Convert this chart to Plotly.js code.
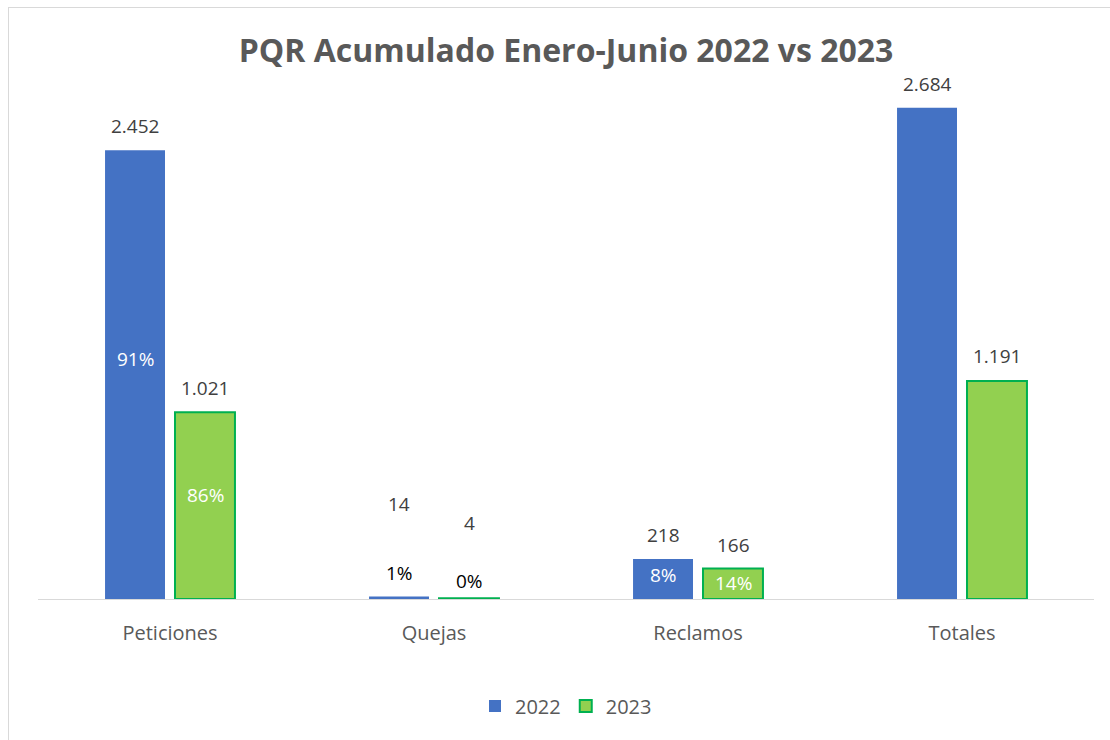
<!DOCTYPE html>
<html><head><meta charset="utf-8">
<script src="https://cdn.plot.ly/plotly-3.0.1.min.js"></script>
<style>
body{margin:0;background:#fff;}
#chart{width:1110px;height:740px;}
#frame{position:absolute;left:8px;top:7px;width:1200px;height:800px;border-left:1px solid #d9d9d9;border-top:1px solid #d9d9d9;pointer-events:none;}
</style></head>
<body>
<div id="chart"></div>
<div id="frame"></div>
<script>
const categories = ["Peticiones", "Quejas", "Reclamos", "Totales"];
const values2022 = [2452, 14, 218, 2684];
const values2023 = [1021, 4, 166, 1191];
const pct2022 = ["91%", "1%", "8%", ""];
const pct2023 = ["86%", "0%", "14%", ""];
const seriesNames = ["2022", "2023"];

function fmt(v){ return String(v).replace(/\B(?=(\d{3})+(?!\d))/g, "."); }

const FONT = "Open Sans, Liberation Sans, sans-serif";
const traces = [
  {type:"bar", name:seriesNames[0], x:categories, y:values2022,
   marker:{color:"#4472C4", line:{color:"#4472C4", width:0}}, hoverinfo:"none"},
  {type:"bar", name:seriesNames[1], x:categories, y:values2023,
   marker:{color:"#92D050", line:{color:"#00B050", width:2}}, hoverinfo:"none"}
];

const valShift = [[24, 92, 24, 24],[24, 75, 24, 25]];
const pctShift = [[16, 25, 4, 0],[11, 18, 1, 0]];
const pctColor = [["#ffffff","#000000","#ffffff","#ffffff"],["#ffffff","#000000","#ffffff","#ffffff"]];
const annotations = [];
[values2022, values2023].forEach((vals, s) => {
  const pcts = s === 0 ? pct2022 : pct2023;
  const xs = s === 0 ? -35 : 35;
  vals.forEach((v, i) => {
    annotations.push({x:categories[i], y:v, xref:"x", yref:"y", text:fmt(v), showarrow:false,
      xshift:xs, yshift:valShift[s][i], font:{family:FONT, size:19, color:"#404040"}});
    if (pcts[i]) {
      annotations.push({x:categories[i], y:v/2, xref:"x", yref:"y", text:pcts[i], showarrow:false,
        xshift:xs, yshift:pctShift[s][i], font:{family:FONT, size:19, color:pctColor[s][i]}});
    }
  });
});

const layout = {
  width:1110, height:740,
  margin:{l:38, r:16, t:90, b:141},
  paper_bgcolor:"#ffffff", plot_bgcolor:"#ffffff",
  title:{text:"<b>PQR Acumulado Enero-Junio 2022 vs 2023</b>", x:0.51, xanchor:"center", y:0.932, yanchor:"middle",
    font:{family:FONT, size:32, color:"#595959"}},
  barmode:"group", bargap:0.47, bargroupgap:0.143,
  xaxis:{type:"category", showline:true, linecolor:"#d9d9d9", linewidth:1, ticks:"", showgrid:false,
    tickfont:{family:FONT, size:20, color:"#595959"}, ticklabelstandoff:16},
  yaxis:{range:[0, 2781], visible:false, showgrid:false, zeroline:false},
  showlegend:true,
  legend:{orientation:"h", x:0.5, xanchor:"center", y:-0.21, yanchor:"middle",
    font:{family:FONT, size:20, color:"#595959"}, itemwidth:30},
  annotations:annotations
};
Plotly.newPlot("chart", traces, layout, {displayModeBar:false, staticPlot:true});
</script>
</body></html>
